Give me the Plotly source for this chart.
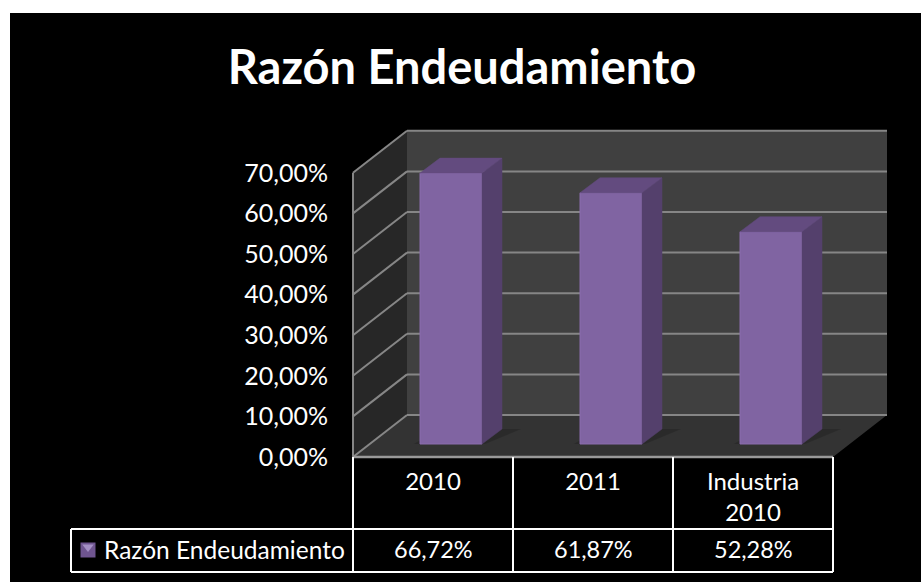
import plotly.graph_objects as go

categories = ["2010", "2011", "Industria<br>2010"]
values = [66.72, 61.87, 52.28]
series_name = "Razón Endeudamiento"
y_ticks = [0, 10, 20, 30, 40, 50, 60, 70]


def pct(v):
    return f"{v:.2f}".replace(".", ",") + "%"


W, H = 921, 582
FONT = "Lato, Carlito, Calibri, sans-serif"

# pixel layout of the fake 3d box, converted to data units below
X0_PX, CAT_PX = 433, 160
Y0_PX, VAL_PX = 457, 4.06


def xd(px):
    return (px - X0_PX) / CAT_PX


def yd(py):
    return (Y0_PX - py) / VAL_PX


idx = list(range(len(categories)))
x_left, x_right = -0.5, len(categories) - 0.5
depth_x, depth_y = 54 / CAT_PX, 42 / VAL_PX
bar_w = 62 / CAT_PX
bar_dx, bar_dy = 20 / CAT_PX, 15 / VAL_PX
bar_shift = 18 / CAT_PX
bar_base = 13 / VAL_PX
y_top = y_ticks[-1]
grid_line = dict(color="#868686", width=2)


def poly(pts):
    return "M " + " L ".join(f"{a},{b}" for a, b in pts) + " Z"


shapes = []
shapes.append(dict(type="rect", xref="paper", yref="paper", x0=10 / W, x1=1, y0=0, y1=1 - 13 / H,
                   fillcolor="black", line_width=0, layer="below"))
# walls and floor
shapes.append(dict(type="path", layer="below", line_width=0, fillcolor="#404040",
                   path=poly([(x_left + depth_x, depth_y), (x_left + depth_x, y_top + depth_y),
                              (x_right + depth_x, y_top + depth_y), (x_right + depth_x, depth_y)])))
shapes.append(dict(type="path", layer="below", line_width=0, fillcolor="#272727",
                   path=poly([(x_left, 0), (x_left, y_top), (x_left + depth_x, y_top + depth_y),
                              (x_left + depth_x, depth_y)])))
shapes.append(dict(type="path", layer="below", line_width=0, fillcolor="#333333",
                   path=poly([(x_left, 0), (x_right, 0), (x_right + depth_x, depth_y),
                              (x_left + depth_x, depth_y)])))
# gridlines
for t in y_ticks:
    shapes.append(dict(type="line", layer="below", x0=x_left, y0=t, x1=x_left + depth_x, y1=t + depth_y,
                       line=grid_line))
    shapes.append(dict(type="line", layer="below", x0=x_left + depth_x, y0=t + depth_y,
                       x1=x_right + depth_x, y1=t + depth_y, line=grid_line))
shapes.append(dict(type="line", layer="below", x0=x_left, y0=0, x1=x_left, y1=y_top, line=grid_line))
shapes.append(dict(type="line", layer="below", x0=x_left, y0=0, x1=x_right, y1=0,
                   line=dict(color="#9a9a9a", width=2.5)))

# bar shadows on the floor
for i in idx:
    cx = i + bar_shift
    shapes.append(dict(type="path", layer="below", line_width=0, fillcolor="rgba(0,0,0,0.16)",
                       path=poly([(cx - bar_w / 2 - 0.04, bar_base), (cx + bar_w / 2 + 0.02, bar_base),
                                  (cx + bar_w / 2 + bar_dx + 0.12, bar_base + bar_dy),
                                  (cx - bar_w / 2 + bar_dx, bar_base + bar_dy)])))

# data table rules
table_left, table_row, table_bottom = 71, 529, 572
rule = dict(color="white", width=2)
for px in [353, 513, 673, 833]:
    shapes.append(dict(type="line", x0=xd(px), x1=xd(px), y0=yd(Y0_PX), y1=yd(table_bottom), line=rule))
shapes.append(dict(type="line", x0=xd(table_left), x1=xd(table_left), y0=yd(table_row), y1=yd(table_bottom), line=rule))
shapes.append(dict(type="line", x0=xd(table_left), x1=xd(833), y0=yd(table_row), y1=yd(table_row), line=rule))
shapes.append(dict(type="line", x0=xd(table_left), x1=xd(833), y0=yd(table_bottom), y1=yd(table_bottom), line=rule))

fig = go.Figure()

fig.add_trace(go.Bar(
    x=[i + bar_shift for i in idx], y=values, base=[bar_base] * len(values), width=bar_w,
    marker=dict(color="#8064a2", line=dict(color="#8a6dad", width=1)),
    name=series_name, hoverinfo="skip", showlegend=False))

# side and top faces of each bar
for i, v in zip(idx, values):
    xl = i + bar_shift - bar_w / 2
    xr = i + bar_shift + bar_w / 2
    top = v + bar_base
    fig.add_trace(go.Scatter(
        x=[xr, xr, xr + bar_dx, xr + bar_dx, xr], y=[bar_base, top, top + bar_dy, bar_base + bar_dy, bar_base],
        mode="lines", fill="toself", fillcolor="#54406c", line=dict(width=0.5, color="#54406c"),
        hoverinfo="skip", showlegend=False))
    fig.add_trace(go.Scatter(
        x=[xl, xr, xr + bar_dx, xl + bar_dx, xl], y=[top, top, top + bar_dy, top + bar_dy, top],
        mode="lines", fill="toself", fillcolor="#634b7f", line=dict(width=0.5, color="#634b7f"),
        hoverinfo="skip", showlegend=False))

# legend key in the table
fig.add_trace(go.Scatter(x=[xd(88)], y=[yd(550)], mode="markers",
                         marker=dict(symbol="square", size=15, color="#6f5590"),
                         hoverinfo="skip", showlegend=False))
fig.add_trace(go.Scatter(x=[xd(88)], y=[yd(547)], mode="markers",
                         marker=dict(symbol="triangle-down", size=10, color="#a48fc4"),
                         hoverinfo="skip", showlegend=False))

annotations = [dict(x=xd(102), y=yd(549), text=series_name, showarrow=False, xanchor="left",
                    font=dict(family=FONT, size=24.5, color="white"))]
for i, v in zip(idx, values):
    annotations.append(dict(x=i, y=yd(549), text=pct(v), showarrow=False,
                            font=dict(family=FONT, size=23.5, color="white")))

fig.update_layout(
    width=W, height=H, margin=dict(l=0, r=0, t=0, b=0),
    paper_bgcolor="white", plot_bgcolor="rgba(0,0,0,0)",
    showlegend=False, shapes=shapes, annotations=annotations,
    title=dict(text="<b>" + series_name + "</b>", x=462 / W, xanchor="center", y=1 - 68 / H, yanchor="middle",
               font=dict(family=FONT, size=47, color="white")),
    font=dict(family=FONT, color="white"),
)
fig.update_xaxes(
    range=[xd(0), xd(W)], domain=[0, 1], anchor="free", position=1 - Y0_PX / H,
    tickvals=idx, ticktext=categories, showgrid=False, zeroline=False, showline=False,
    ticks="", ticklabelstandoff=8, tickfont=dict(family=FONT, size=24, color="white"), fixedrange=True)
fig.update_yaxes(
    range=[yd(H), yd(0)], domain=[0, 1], anchor="free", position=353 / W,
    tickvals=y_ticks, ticktext=[pct(t) for t in y_ticks], showgrid=False, zeroline=False, showline=False,
    ticks="", ticklabelstandoff=25, tickfont=dict(family=FONT, size=25, color="white"), fixedrange=True)

fig.write_html("out.html", config=dict(displayModeBar=False),
               post_script="document.body.style.margin='0';document.body.style.overflow='hidden';")
